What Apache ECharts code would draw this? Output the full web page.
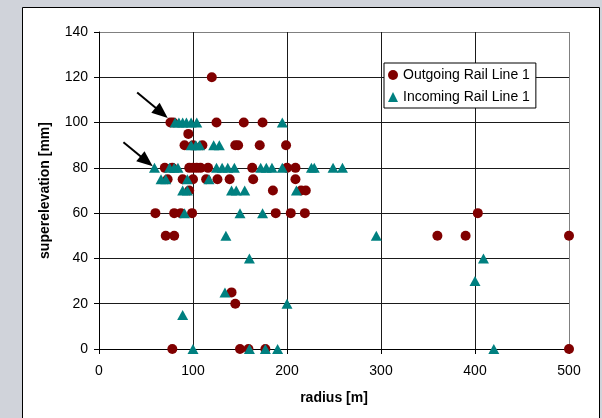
<!DOCTYPE html>
<html>
<head>
<meta charset="utf-8">
<script src="https://cdn.jsdelivr.net/npm/echarts@6/dist/echarts.min.js"></script>
<style>
  html, body { margin: 0; padding: 0; background: #d0d3da; }
  #chart { width: 602px; height: 418px; }
</style>
</head>
<body>
<div id="chart"></div>
<script>
// Superelevation vs. curve radius for both directions of Rail Line 1
const xTicks = [0, 100, 200, 300, 400, 500];
const yTicks = [0, 20, 40, 60, 80, 100, 120, 140];

const outgoingName = 'Outgoing Rail Line 1';
const outgoingRadius = [
  120,
  76, 79, 125, 154, 174,
  95,
  91, 100, 110, 145, 148, 171, 199,
  70, 78, 96, 100, 104, 108, 116, 163, 200, 209,
  73, 89, 100, 114, 126, 139, 164, 209,
  96, 185, 215, 220,
  60, 80, 87, 99, 188, 204, 219, 403,
  71, 80, 360, 390, 500,
  141,
  145,
  78, 150, 159, 177, 500
];
const outgoingSuperelevation = [
  120,
  100, 100, 100, 100, 100,
  95,
  90, 90, 90, 90, 90, 90, 90,
  80, 80, 80, 80, 80, 80, 80, 80, 80, 80,
  75, 75, 75, 75, 75, 75, 75, 75,
  70, 70, 70, 70,
  60, 60, 60, 60, 60, 60, 60, 60,
  50, 50, 50, 50, 50,
  25,
  20,
  0, 0, 0, 0, 0
];

const incomingName = 'Incoming Rail Line 1';
const incomingRadius = [
  81, 85, 89, 93, 98, 104, 195,
  98, 103, 107, 122, 128,
  59, 75, 80, 84, 125, 131, 137, 144, 172, 178, 184, 195, 226, 229, 249, 259,
  66, 71, 94, 117,
  89, 94, 141, 146, 155, 210,
  91, 150, 174,
  135, 295,
  160, 409,
  400,
  134,
  200,
  89,
  100, 160, 177, 190, 420
];
const incomingSuperelevation = [
  100, 100, 100, 100, 100, 100, 100,
  90, 90, 90, 90, 90,
  80, 80, 80, 80, 80, 80, 80, 80, 80, 80, 80, 80, 80, 80, 80, 80,
  75, 75, 75, 75,
  70, 70, 70, 70, 70, 70,
  60, 60, 60,
  50, 50,
  40, 40,
  30,
  25,
  20,
  15,
  0, 0, 0, 0, 0
];

const pairs = (xs, ys) => xs.map((x, i) => [x, ys[i]]);

const FONT = '"Liberation Sans", Arial, sans-serif';
const gridColors = (n) => Array.from({ length: n }, (_, i) => (i === n - 1 ? '#808080' : '#1a1a1a'));

const chart = echarts.init(document.getElementById('chart'), null, { renderer: 'canvas' });

chart.setOption({
  animation: false,
  backgroundColor: '#d0d3da',
  textStyle: { fontFamily: FONT, color: '#000' },
  graphic: [{
    type: 'rect',
    z: -10,
    silent: true,
    shape: { x: 22.5, y: 7.5, width: 577, height: 420 },
    style: { fill: '#ffffff', stroke: '#000000', lineWidth: 1 }
  }],
  grid: { left: 99, top: 32, width: 470, height: 317, containLabel: false },
  legend: {
    orient: 'vertical',
    left: 384,
    top: 63,
    padding: [5, 6, 4, 4],
    itemGap: 8,
    itemWidth: 10,
    itemHeight: 10,
    backgroundColor: '#ffffff',
    borderColor: '#000000',
    borderWidth: 1,
    borderRadius: 0,
    textStyle: { fontFamily: FONT, fontSize: 14, color: '#000', padding: [0, 0, 0, 0] },
    data: [
      { name: outgoingName, icon: 'circle' },
      { name: incomingName, icon: 'triangle' }
    ]
  },
  xAxis: {
    type: 'value',
    min: xTicks[0],
    max: xTicks[xTicks.length - 1],
    interval: 100,
    name: 'radius [m]',
    nameLocation: 'middle',
    nameGap: 42,
    nameTextStyle: { fontFamily: FONT, fontSize: 14, fontWeight: 'bold', color: '#000' },
    axisLine: { show: true, onZero: false, lineStyle: { color: '#000', width: 1 } },
    axisTick: { show: true, length: 5, lineStyle: { color: '#000' } },
    axisLabel: { margin: 15, fontFamily: FONT, fontSize: 14, color: '#000' },
    splitLine: { show: true, lineStyle: { color: gridColors(xTicks.length), width: 1 } }
  },
  yAxis: {
    type: 'value',
    min: yTicks[0],
    max: yTicks[yTicks.length - 1],
    interval: 20,
    name: 'superelevation [mm]',
    nameLocation: 'middle',
    nameGap: 47,
    nameTextStyle: { fontFamily: FONT, fontSize: 14, fontWeight: 'bold', color: '#000' },
    axisLine: { show: true, onZero: false, lineStyle: { color: '#000', width: 1 } },
    axisTick: { show: true, length: 5, lineStyle: { color: '#000' } },
    axisLabel: { margin: 11, fontFamily: FONT, fontSize: 14, color: '#000' },
    splitLine: { show: true, lineStyle: { color: gridColors(yTicks.length), width: 1 } }
  },
  series: [
    {
      name: outgoingName,
      type: 'scatter',
      symbol: 'circle',
      symbolSize: 10,
      itemStyle: { color: '#800000', opacity: 1 },
      emphasis: { disabled: true },
      data: pairs(outgoingRadius, outgoingSuperelevation)
    },
    {
      name: incomingName,
      type: 'scatter',
      symbol: 'triangle',
      symbolSize: [11, 10],
      itemStyle: { color: '#008080', opacity: 1 },
      emphasis: { disabled: true },
      data: pairs(incomingRadius, incomingSuperelevation),
      markLine: {
        silent: true,
        symbol: ['none', 'triangle'],
        symbolSize: [13, 16],
        label: { show: false },
        emphasis: { disabled: true },
        lineStyle: { color: '#000', width: 2, type: 'solid' },
        itemStyle: { color: '#000' },
        data: [
          [{ coord: [40.6, 113.3] }, { coord: [66.6, 104.3] }],
          [{ coord: [26, 91.3] }, { coord: [50.6, 82.9] }]
        ]
      }
    }
  ]
});
</script>
</body>
</html>
